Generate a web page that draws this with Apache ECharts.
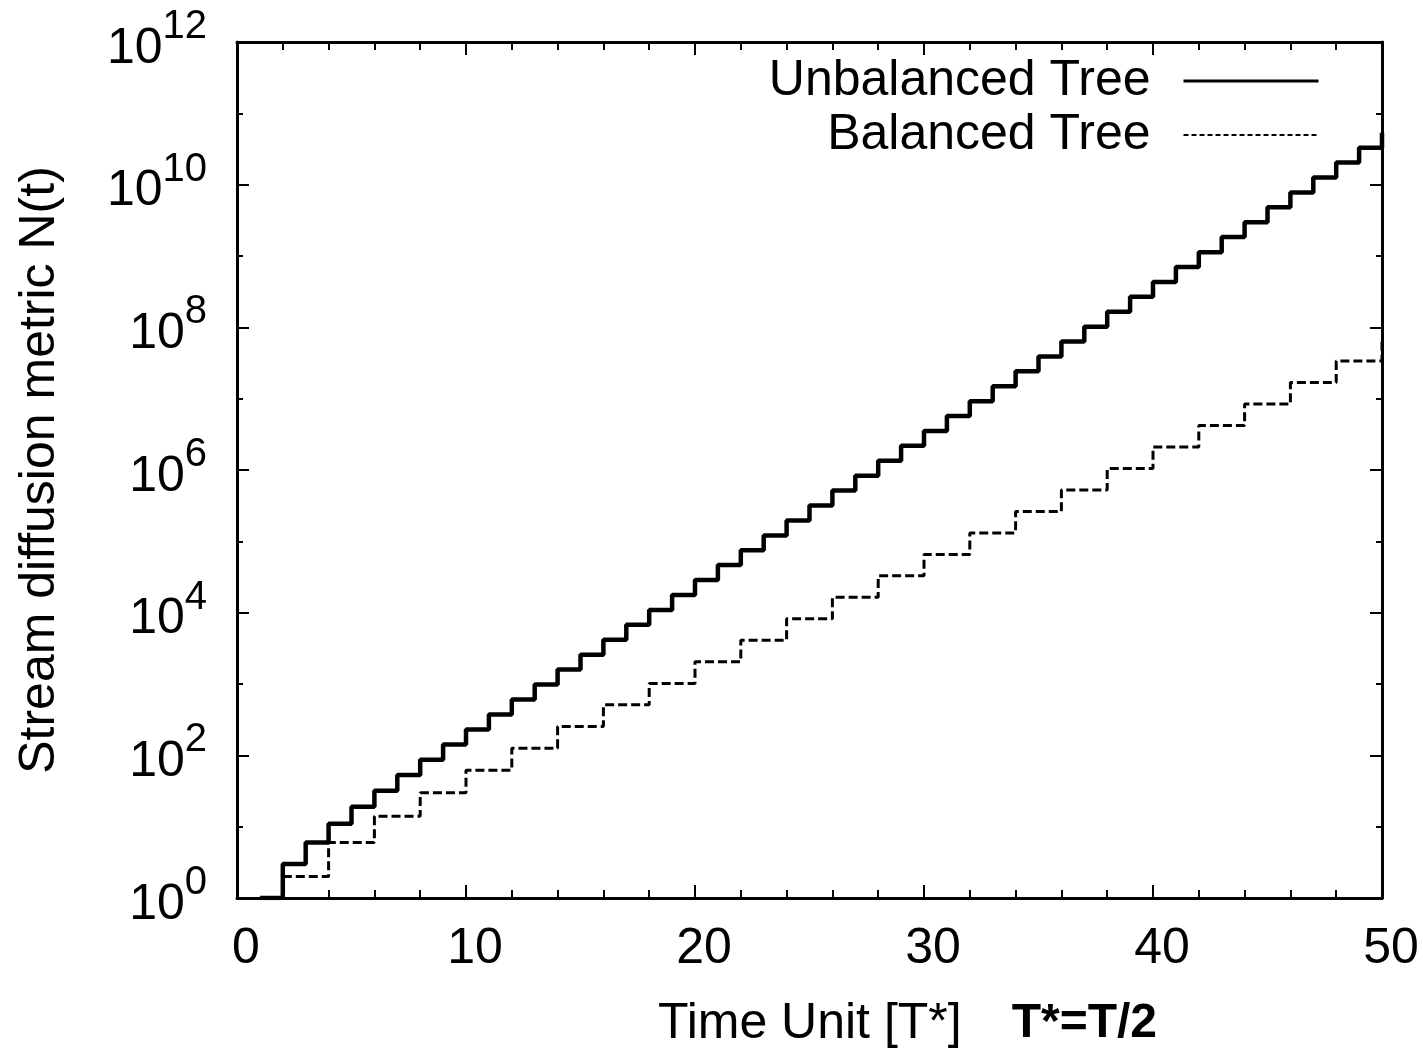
<!DOCTYPE html>
<html>
<head>
<meta charset="utf-8">
<script src="https://cdn.jsdelivr.net/npm/echarts@6/dist/echarts.min.js"></script>
<style>
  html, body { margin: 0; padding: 0; background: #fff; }
  #chart { width: 1423px; height: 1053px; }
</style>
</head>
<body>
<div id="chart"></div>
<script>
// time unit [T*] where each step begins
const unbalancedTimes = [1, 2, 3, 4, 5, 6, 7, 8, 9, 10, 11, 12, 13, 14, 15, 16, 17, 18, 19, 20,
  21, 22, 23, 24, 25, 26, 27, 28, 29, 30, 31, 32, 33, 34, 35, 36, 37, 38, 39, 40,
  41, 42, 43, 44, 45, 46, 47, 48, 49, 50]
// N(t)
const unbalancedValues = [1, 3, 6, 11, 19, 32, 53, 87, 142, 231, 375, 608, 985, 1.6e3, 2.58e3,
  4.18e3, 6.76e3, 1.09e4, 1.77e4, 2.87e4, 4.64e4, 7.5e4, 1.21e5, 1.96e5, 3.18e5,
  5.14e5, 8.32e5, 1.35e6, 2.18e6, 3.52e6, 5.7e6, 9.23e6, 1.49e7, 2.42e7, 3.91e7,
  6.32e7, 1.02e8, 1.66e8, 2.68e8, 4.33e8, 7.01e8, 1.13e9, 1.84e9, 2.97e9, 4.81e9,
  7.78e9, 1.26e10, 2.04e10, 3.3e10, 5.33e10]

const balancedTimes = [2, 4, 6, 8, 10, 12, 14, 16, 18, 20, 22, 24, 26, 28, 30, 32, 34, 36, 38, 40,
  42, 44, 46, 48, 50]
// N(t)
const balancedValues = [2, 6, 14, 30, 62, 126, 254, 510, 1.02e3, 2.05e3, 4.09e3, 8.19e3, 1.64e4,
  3.28e4, 6.55e4, 1.31e5, 2.62e5, 5.24e5, 1.05e6, 2.1e6, 4.19e6, 8.39e6, 1.68e7, 3.36e7, 6.71e7]

// axis ranges (y is in powers of ten)
const xRange = [0, 50]
const yExpRange = [0, 12]

const FONT = "'Liberation Sans', Arial, Helvetica, sans-serif"
const black = '#000'

const chart = echarts.init(document.getElementById('chart'))

// plot the exponent so ticks land on every decade
const toLog = (times, values) => times.map((t, i) => [t, Math.log10(values[i])])

const frameLine = { show: true, onZero: false, lineStyle: { color: black, width: 3 } }

function xAxisBase(position) {
  return {
    type: 'value',
    position: position,
    min: xRange[0],
    max: xRange[1],
    interval: 10,
    axisLine: frameLine,
    axisTick: { show: true, inside: true, length: 13, lineStyle: { color: black, width: 2 } },
    minorTick: { show: true, splitNumber: 5, length: 8, lineStyle: { color: black, width: 2 } },
    splitLine: { show: false },
    minorSplitLine: { show: false },
    axisLabel: { show: false }
  }
}

function yAxisBase(position) {
  return {
    type: 'value',
    position: position,
    min: yExpRange[0],
    max: yExpRange[1],
    interval: 2,
    axisLine: frameLine,
    axisTick: { show: true, inside: true, length: 12, lineStyle: { color: black, width: 2 } },
    minorTick: { show: true, splitNumber: 2, length: 6, lineStyle: { color: black, width: 2 } },
    splitLine: { show: false },
    minorSplitLine: { show: false },
    axisLabel: { show: false }
  }
}

const xBottom = xAxisBase('bottom')
xBottom.axisLabel = {
  show: true,
  margin: 26,
  fontSize: 50,
  fontFamily: FONT,
  color: black,
  padding: [0, 0, 0, 18]
}
xBottom.name = '{a|Time Unit [T*]}{b|T*=T/2}'
xBottom.nameLocation = 'middle'
xBottom.nameGap = 101
xBottom.nameTextStyle = {
  padding: [0, 0, 0, 196],
  rich: {
    a: { fontSize: 50, fontFamily: FONT, color: black, padding: [0, 50, 0, 0] },
    b: { fontSize: 48, fontFamily: FONT, fontWeight: 'bold', color: black }
  }
}

const yLeft = yAxisBase('left')
yLeft.axisLabel = {
  show: true,
  margin: 30,
  padding: [14, 0, 0, 0],
  formatter: (v) => '{b|10}{s|' + v + '}',
  rich: {
    b: { fontSize: 50, lineHeight: 50, fontFamily: FONT, color: black, verticalAlign: 'bottom' },
    s: { fontSize: 40, lineHeight: 40, fontFamily: FONT, color: black, verticalAlign: 'bottom', padding: [0, 0, 27, 0] }
  }
}
yLeft.name = 'Stream diffusion metric N(t)'
yLeft.nameLocation = 'middle'
yLeft.nameGap = 172
yLeft.nameRotate = 90
yLeft.nameTextStyle = { fontSize: 50, fontFamily: FONT, color: black }

const option = {
  animation: false,
  backgroundColor: '#fff',
  grid: { left: 237, right: 41, top: 42, bottom: 155, containLabel: false, outerBoundsMode: 'none' },
  legend: {
    orient: 'vertical',
    right: 103,
    top: 56,
    padding: 0,
    align: 'right',
    itemWidth: 135,
    itemHeight: 14,
    itemGap: 4,
    selectedMode: false,
    itemStyle: { opacity: 0 },
    textStyle: { fontSize: 50, fontFamily: FONT, color: black, padding: [0, 28, 0, 0] },
    data: [
      { name: 'Unbalanced Tree', lineStyle: { width: 3 } },
      { name: 'Balanced Tree', lineStyle: { width: 2, type: [5, 3] } }
    ]
  },
  xAxis: [xBottom, xAxisBase('top')],
  yAxis: [yLeft, yAxisBase('right')],
  series: [
    {
      name: 'Unbalanced Tree',
      type: 'line',
      step: 'end',
      symbol: 'none',
      xAxisIndex: 0,
      yAxisIndex: 0,
      color: black,
      lineStyle: { color: black, width: 4.5 },
      data: toLog(unbalancedTimes, unbalancedValues)
    },
    {
      name: 'Balanced Tree',
      type: 'line',
      step: 'end',
      symbol: 'none',
      xAxisIndex: 0,
      yAxisIndex: 0,
      color: black,
      lineStyle: { color: black, width: 3, type: [9, 4] },
      data: toLog(balancedTimes, balancedValues)
    }
  ]
}

chart.setOption(option)
</script>
</body>
</html>
